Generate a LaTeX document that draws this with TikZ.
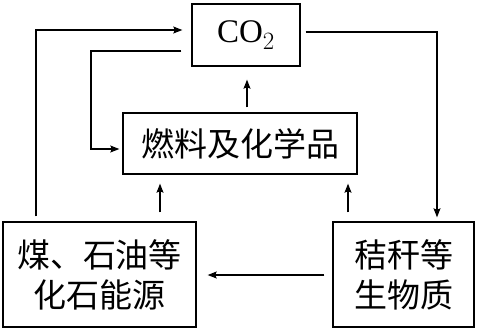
\documentclass[tikz,border=0pt]{standalone}
\usepackage{fontspec}
\setmainfont{Liberation Serif}
\newfontfamily\cjk{Noto Sans CJK SC}
\usetikzlibrary{arrows.meta}
\begin{document}
\begin{tikzpicture}[x=1pt,y=-1pt,
  box/.style={draw,line width=1.4pt,inner sep=0pt,align=center},
  arr/.style={line width=1.2pt,-{Stealth[length=9pt,width=7pt,inset=1.5pt]}},
  cn/.style={font=\cjk\fontsize{33}{40}\selectfont}]
\useasboundingbox (0,0) rectangle (477,330);
\node[box,minimum width=108pt,minimum height=62pt,font=\fontsize{33}{40}\selectfont] (co2) at (246,35) {CO$_2$};
\node[box,cn,minimum width=234pt,minimum height=61pt] (fuel) at (240,143.5) {燃料及化学品};
\node[box,cn,minimum width=193pt,minimum height=105pt] (coal) at (99.5,274.5) {煤、石油等\\化石能源};
\node[box,cn,minimum width=141pt,minimum height=105pt] (straw) at (403.5,274.5) {秸秆等\\生物质};
% coal -> CO2
\draw[arr,shorten <=5pt,shorten >=9pt] (coal.north -| 36,0) |- (co2.west |- 0,30);
% CO2 -> fuel
\draw[arr,shorten <=10pt,shorten >=3pt] (co2.west |- 0,51) -- (91,51) |- (fuel.west |- 0,149);
% CO2 -> straw
\draw[arr,shorten <=5pt,shorten >=4pt] (co2.east |- 0,32) -| (straw.north -| 437,0);
% fuel -> CO2
\draw[arr,shorten <=5pt,shorten >=13pt] (fuel.north -| 247,0) -- (co2.south -| 247,0);
% coal -> fuel
\draw[arr,shorten <=9pt,shorten >=9pt] (coal.north -| 160,0) -- (fuel.south -| 160,0);
% straw -> fuel
\draw[arr,shorten <=9pt,shorten >=9pt] (straw.north -| 348,0) -- (fuel.south -| 348,0);
% straw -> coal
\draw[arr,shorten <=8pt,shorten >=11pt] (straw.west |- 0,275) -- (coal.east |- 0,275);
\end{tikzpicture}
\end{document}
